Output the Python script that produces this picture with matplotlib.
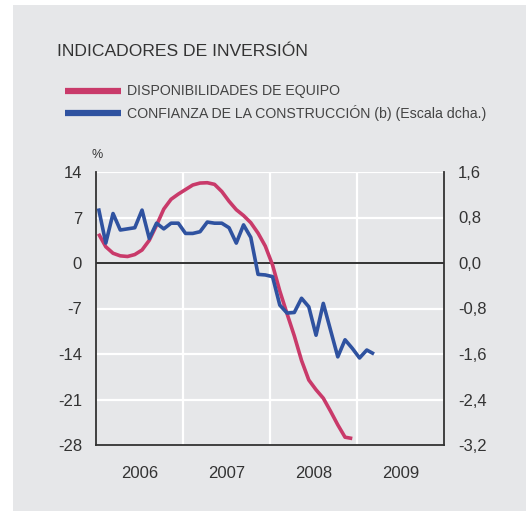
import matplotlib
matplotlib.use("Agg")
import matplotlib.pyplot as plt
from matplotlib.patches import Rectangle
import numpy as np

plt.rcParams['font.family'] = ['Liberation Sans', 'DejaVu Sans']

title = "INDICADORES DE INVERSIÓN"
label_red = "DISPONIBILIDADES DE EQUIPO"
label_blue = "CONFIANZA DE LA CONSTRUCCIÓN (b) (Escala dcha.)"

# monthly data starting January 2006
red_values = [4.5, 2.5, 1.5, 1.1, 1.0, 1.3, 2.0, 3.5, 5.8, 8.3, 9.8, 10.6,
              11.3, 12.0, 12.3, 12.35, 12.1, 11.0, 9.5, 8.2, 7.3, 6.2, 4.6, 2.6,
              -0.3, -4.3, -7.8, -11.2, -15.0, -18.0, -19.5, -20.8, -22.8, -24.9, -26.8, -27.0]
blue_values = [0.96, 0.35, 0.87, 0.58, 0.60, 0.62, 0.93, 0.43, 0.70, 0.60, 0.70, 0.70,
               0.52, 0.52, 0.55, 0.72, 0.70, 0.70, 0.62, 0.35, 0.67, 0.45, -0.20, -0.21,
               -0.24, -0.74, -0.88, -0.87, -0.62, -0.77, -1.27, -0.71, -1.18, -1.65, -1.35, -1.50,
               -1.67, -1.53, -1.60]

left_ticks = [14, 7, 0, -7, -14, -21, -28]
right_ticks = [1.6, 0.8, 0.0, -0.8, -1.6, -2.4, -3.2]
right_labels = ["1,6", "0,8", "0,0", "-0,8", "-1,6", "-2,4", "-3,2"]
years = [2006, 2007, 2008, 2009]

t_red = 2006 + (np.arange(len(red_values)) + 0.35) / 12
t_blue = 2006 + (np.arange(len(blue_values)) + 0.35) / 12

W, H = 526, 511
fig = plt.figure(figsize=(W / 100, H / 100), dpi=100)
fig.patch.set_facecolor("white")
bg = "#e6e7e9"
fig.patches.append(Rectangle((13 / W, 0), 1 - 13 / W, 1 - 5 / H, transform=fig.transFigure,
                             facecolor=bg, edgecolor="none", zorder=-10))

ax = fig.add_axes([96 / W, 1 - 445 / H, (444 - 96) / W, (445 - 172) / H])
ax.set_facecolor(bg)
ax2 = ax.twinx()

txt = "#333333"
red_c = "#c93a6a"
blue_c = "#2f52a0"

ax.set_xlim(2006, 2010)
ax.set_ylim(-28, 14)
ax2.set_ylim(-3.2, 1.6)

# grid
for yv in left_ticks:
    if yv not in (0, -28):
        ax.axhline(yv, color="white", lw=1.6, zorder=1)
for xv in years[1:]:
    ax.axvline(xv, color="white", lw=1.6, zorder=1)
ax.axhline(0, color="#333333", lw=1.4, zorder=2)

ax.plot(t_red, red_values, color=red_c, lw=2.6, zorder=3, solid_capstyle="butt")
ax2.plot(t_blue, blue_values, color=blue_c, lw=2.6, zorder=4, solid_capstyle="butt")

ax.set_yticks(left_ticks)
ax.set_yticklabels([str(v) for v in left_ticks])
ax2.set_yticks(right_ticks)
ax2.set_yticklabels(right_labels)
ax.set_xticks([y + 0.5 for y in years])
ax.set_xticklabels([str(y) for y in years])

for a in (ax, ax2):
    a.tick_params(length=0, labelsize=12, colors=txt)
    for s in a.spines.values():
        s.set_visible(False)
ax.tick_params(axis="y", pad=10)
ax.tick_params(axis="x", pad=15)
ax2.tick_params(axis="y", pad=10)
ax.spines["left"].set_visible(True)
ax.spines["bottom"].set_visible(True)
ax2.spines["right"].set_visible(True)
for s in (ax.spines["left"], ax.spines["bottom"], ax2.spines["right"]):
    s.set_color("#333333")
    s.set_linewidth(1.3)

fig.text(97 / W, 1 - 155 / H, "%", fontsize=9, color=txt, ha="center", va="center")

fig.text(57 / W, 1 - 52 / H, title, fontsize=12.6, color=txt, ha="left", va="center")

# legend
for yy, col, lab in [(91, red_c, label_red), (113, blue_c, label_blue)]:
    fig.lines.append(plt.Line2D([65 / W, 121 / W], [1 - yy / H, 1 - yy / H],
                                transform=fig.transFigure, color=col, lw=4.5,
                                solid_capstyle="butt"))
    fig.text(127 / W, 1 - yy / H, lab, fontsize=10.2, color="#444444", ha="left", va="center")

fig.savefig("out.png", dpi=100, facecolor=fig.get_facecolor())
